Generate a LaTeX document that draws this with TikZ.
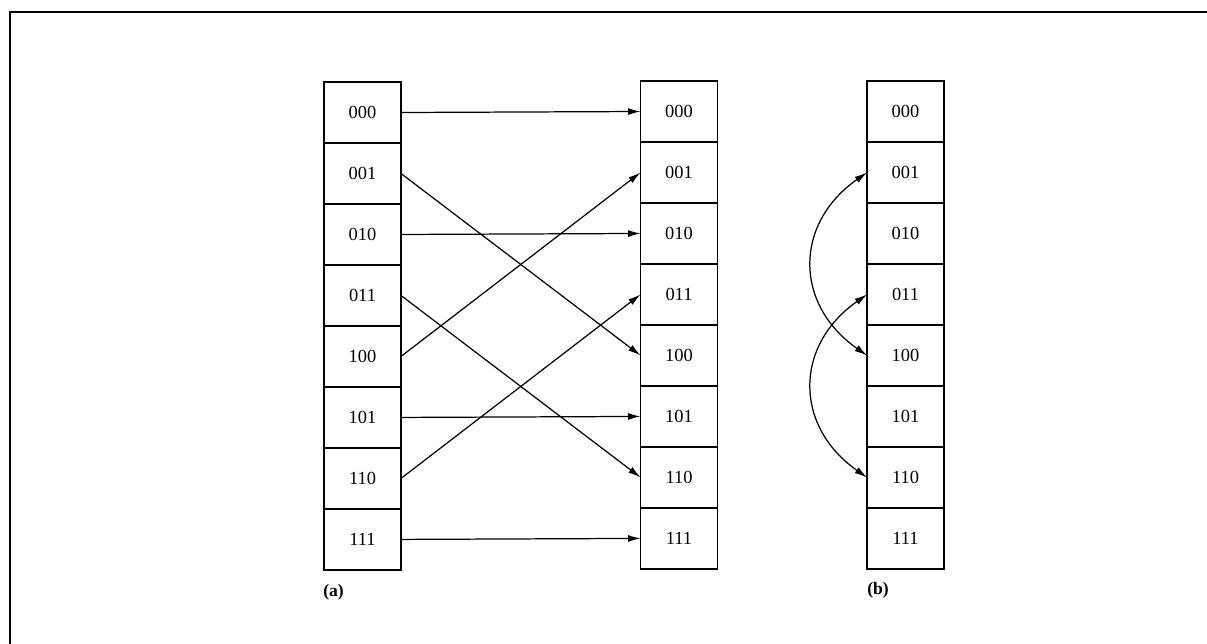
\documentclass[tikz,border=0pt]{standalone}
\usepackage{fontspec}
\setmainfont{Liberation Serif}
\usepackage{tikz}
\usetikzlibrary{positioning,arrows.meta}
\tikzset{
    cell/.style={rectangle, draw, line width=0.9pt, minimum width=1.54cm, minimum height=1.22cm, inner sep=0pt, outer sep=0pt, font=\fontsize{10.5}{12}\selectfont},
    link/.style={line width=0.7pt, -{Latex[length=2.5mm,width=1.4mm]}},
    swap/.style={line width=0.7pt, {Latex[length=2.5mm,width=1.4mm]}-{Latex[length=2.5mm,width=1.4mm]}, out=215, in=145, looseness=1.25},
    caption/.style={font=\fontsize{10}{12}\selectfont\bfseries, inner sep=0pt}
}

\begin{document}
\begin{tikzpicture}[x=0.02cm, y=-0.02cm]
    \useasboundingbox (0,0) rectangle (1207,643);
    % frame
    \draw[line width=1.6pt] (10,660) -- (10,12) -- (1215,12);

    % (a) source column
    \node[cell] (s000) at (362.5,112.5) {000};
    \node[cell, below=0pt of s000] (s001) {001};
    \node[cell, below=0pt of s001] (s010) {010};
    \node[cell, below=0pt of s010] (s011) {011};
    \node[cell, below=0pt of s011] (s100) {100};
    \node[cell, below=0pt of s100] (s101) {101};
    \node[cell, below=0pt of s101] (s110) {110};
    \node[cell, below=0pt of s110] (s111) {111};

    % (a) target column
    \node[cell] (t000) at (679,111.5) {000};
    \node[cell, below=0pt of t000] (t001) {001};
    \node[cell, below=0pt of t001] (t010) {010};
    \node[cell, below=0pt of t010] (t011) {011};
    \node[cell, below=0pt of t011] (t100) {100};
    \node[cell, below=0pt of t100] (t101) {101};
    \node[cell, below=0pt of t101] (t110) {110};
    \node[cell, below=0pt of t110] (t111) {111};

    % (b) column
    \node[cell] (b000) at (905.5,111.5) {000};
    \node[cell, below=0pt of b000] (b001) {001};
    \node[cell, below=0pt of b001] (b010) {010};
    \node[cell, below=0pt of b010] (b011) {011};
    \node[cell, below=0pt of b011] (b100) {100};
    \node[cell, below=0pt of b100] (b101) {101};
    \node[cell, below=0pt of b101] (b110) {110};
    \node[cell, below=0pt of b110] (b111) {111};

    % bit reversal links
    \draw[link] (s000.east) -- (t000.west);
    \draw[link] (s001.east) -- (t100.west);
    \draw[link] (s010.east) -- (t010.west);
    \draw[link] (s011.east) -- (t110.west);
    \draw[link] (s100.east) -- (t001.west);
    \draw[link] (s101.east) -- (t101.west);
    \draw[link] (s110.east) -- (t011.west);
    \draw[link] (s111.east) -- (t111.west);

    % in-place swaps
    \draw[swap] (b001.west) to (b100.west);
    \draw[swap] (b011.west) to (b110.west);

    % captions
    \node[caption, anchor=west] (capa) at (323,592) {(a)};
    \node[caption, anchor=west] (capb) at (867,590) {(b)};
\end{tikzpicture}
\end{document}
